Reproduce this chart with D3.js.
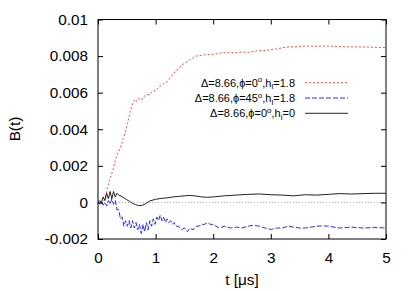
<!DOCTYPE html>
<html><head><meta charset="utf-8">
<script src="https://cdn.jsdelivr.net/npm/d3@7"></script>
<style>body{margin:0;background:#fff}svg{display:block}text{font-family:"Liberation Sans",Arial,sans-serif;fill:#000}</style>
</head><body>
<script>
// ---- data ----
const xTicks = [0, 1, 2, 3, 4, 5];
const yTicks = [-0.002, 0, 0.002, 0.004, 0.006, 0.008, 0.01];
const yTickLabels = ["-0.002", "0", "0.002", "0.004", "0.006", "0.008", "0.01"];
const seriesNames = ["phi0_h18", "phi45_h18", "phi0_h0"];

const redSeries = [
[0,0],[0.05,-0.0001],[0.1,0.0001],[0.12,0.0002],[0.15,0.0006],[0.18,0.001],[0.21,0.0013],[0.24,0.0016],[0.27,0.0019],[0.3,0.0023],
[0.33,0.0026],[0.36,0.0028],[0.39,0.003],[0.42,0.0033],[0.45,0.0036],[0.48,0.0039],[0.51,0.0043],[0.54,0.0047],[0.57,0.0051],[0.6,0.0054],
[0.63,0.0056],[0.66,0.0055],[0.7,0.0057],[0.75,0.0056],[0.8,0.0058],[0.85,0.0059],[0.9,0.0059],[0.95,0.0061],[1.0,0.0061],[1.05,0.0063],
[1.1,0.0064],[1.15,0.0065],[1.2,0.0066],[1.25,0.0068],[1.3,0.007],[1.35,0.0072],[1.4,0.0073],[1.45,0.0075],[1.5,0.0076],[1.55,0.0077],
[1.6,0.0078],[1.65,0.0079],[1.7,0.008],[1.8,0.00805],[1.9,0.00808],[2.0,0.0081],[2.1,0.00815],[2.2,0.0082],[2.3,0.00818],[2.4,0.0082],
[2.5,0.00822],[2.6,0.0082],[2.7,0.00825],[2.8,0.0083],[2.9,0.0083],[3.0,0.00835],[3.1,0.0084],[3.2,0.00845],[3.3,0.0085],[3.4,0.0085],
[3.5,0.00852],[3.6,0.00855],[3.7,0.00855],[3.8,0.00853],[3.9,0.00855],[4.0,0.00855],[4.2,0.00852],[4.4,0.0085],[4.6,0.0085],[4.8,0.00848],[5.0,0.00846]
];

const blueSeries = [
[0,0],[0.03,-0.0001],[0.06,0.00005],[0.09,-0.00015],[0.12,0],[0.15,-0.0002],[0.18,0.0001],[0.21,-0.0001],[0.24,0.0002],[0.27,-0.0001],
[0.3,0.0001],[0.33,-0.0004],[0.36,-0.0004],[0.39,-0.0009],[0.42,-0.0008],[0.45,-0.0013],[0.48,-0.001],[0.51,-0.0013],[0.54,-0.001],[0.57,-0.0014],
[0.6,-0.001],[0.63,-0.0014],[0.66,-0.0011],[0.69,-0.0015],[0.72,-0.0012],[0.75,-0.0017],[0.78,-0.0012],[0.81,-0.0016],[0.84,-0.0011],[0.87,-0.0015],
[0.9,-0.001],[0.93,-0.0013],[0.96,-0.0009],[0.99,-0.0012],[1.02,-0.0008],[1.05,-0.001],[1.08,-0.0007],[1.11,-0.001],[1.14,-0.0008],[1.17,-0.0011],
[1.2,-0.0009],[1.23,-0.0011],[1.26,-0.001],[1.29,-0.0012],[1.32,-0.0011],[1.35,-0.0013],[1.4,-0.0013],[1.45,-0.0015],[1.5,-0.0014],[1.55,-0.0016],
[1.6,-0.0014],[1.65,-0.0015],[1.7,-0.0013],[1.75,-0.0013],[1.8,-0.0012],[1.85,-0.0012],[1.9,-0.0011],[1.95,-0.0012],[2.0,-0.0012],[2.1,-0.0014],
[2.2,-0.0013],[2.3,-0.0014],[2.4,-0.00135],[2.5,-0.0014],[2.6,-0.0013],[2.7,-0.00125],[2.8,-0.0013],[2.9,-0.0014],[3.0,-0.00148],[3.1,-0.0014],
[3.2,-0.0014],[3.3,-0.0013],[3.4,-0.00135],[3.5,-0.0014],[3.6,-0.0014],[3.7,-0.00135],[3.8,-0.0013],[3.9,-0.00128],[4.0,-0.0013],[4.2,-0.0014],
[4.4,-0.00135],[4.6,-0.0014],[4.8,-0.00137],[5.0,-0.0014]
];

const blackSeries = [
[0,0],[0.03,0.0001],[0.06,0],[0.09,0.0003],[0.12,0.0001],[0.15,0.0005],[0.18,0.0002],[0.21,0.0006],[0.24,0.0002],[0.27,0.0006],
[0.3,0.0003],[0.33,0.0005],[0.36,0.0004],[0.4,0.00035],[0.45,0.00025],[0.5,0.00015],[0.55,0.00005],[0.6,-0.00005],[0.65,-0.00012],[0.7,-0.00017],
[0.75,-0.00017],[0.8,-0.00012],[0.85,-0.00002],[0.9,0.00008],[1.0,0.00017],[1.1,0.00022],[1.2,0.00025],[1.3,0.0003],[1.4,0.00033],[1.5,0.00036],
[1.6,0.00038],[1.7,0.00035],[1.8,0.0003],[1.9,0.00028],[2.0,0.0003],[2.2,0.00036],[2.4,0.0004],[2.6,0.00044],[2.8,0.00046],[3.0,0.00042],
[3.2,0.0004],[3.4,0.00036],[3.6,0.00042],[3.8,0.0004],[4.0,0.00044],[4.2,0.00048],[4.4,0.00046],[4.6,0.00048],[4.8,0.0005],[5.0,0.0005]
];

// ---- drawing ----
const W = 415, H = 291;
const L = 98, R = 386, T = 19.5, B = 239;
const svg = d3.select("body").append("svg").attr("width", W).attr("height", H);
const x = d3.scaleLinear().domain([0, 5]).range([L, R]);
const y = d3.scaleLinear().domain([-0.002, 0.01]).range([B, T]);

// zero line
svg.append("line").attr("x1", L).attr("x2", R).attr("y1", Math.round(y(0)) + 0.5).attr("y2", Math.round(y(0)) + 0.5)
  .attr("stroke", "#999").attr("stroke-width", 0.8).attr("stroke-dasharray", "1,2");

svg.append("clipPath").attr("id", "c").append("rect").attr("x", L).attr("y", T).attr("width", R - L).attr("height", B - T);
const line = d3.line().x(d => x(d[0])).y(d => y(d[1]));
const g = svg.append("g").attr("clip-path", "url(#c)");
const styles = [
  {data: redSeries, color: "#ff4545", dash: "2,2", w: 1},
  {data: blueSeries, color: "#2a2aff", dash: "5,2", w: 1},
  {data: blackSeries, color: "#222", dash: null, w: 1}
];
styles.forEach(s => {
  g.append("path").datum(s.data).attr("d", line).attr("fill", "none")
    .attr("stroke", s.color).attr("stroke-width", s.w).attr("stroke-dasharray", s.dash);
});

// axes with mirrored inward ticks
const axB = svg.append("g").attr("transform", `translate(0,${B})`)
  .call(d3.axisBottom(x).tickValues(xTicks).tickSize(-5).tickPadding(13).tickFormat(d3.format("d")));
const axT = svg.append("g").attr("transform", `translate(0,${T})`)
  .call(d3.axisTop(x).tickValues(xTicks).tickSize(-5).tickFormat(""));
const axL = svg.append("g").attr("transform", `translate(${L},0)`)
  .call(d3.axisLeft(y).tickValues(yTicks).tickSize(-5).tickPadding(10).tickFormat((d, i) => yTickLabels[i]));
const axR = svg.append("g").attr("transform", `translate(${R},0)`)
  .call(d3.axisRight(y).tickValues(yTicks).tickSize(-5).tickFormat(""));
[axB, axT, axL, axR].forEach(a => {
  a.select(".domain").remove();
  a.selectAll("line").attr("stroke", "#000");
  a.selectAll("text").attr("font-size", 15.3).attr("font-family", "Liberation Sans, Arial, sans-serif");
});
svg.append("rect").attr("x", L).attr("y", T).attr("width", R - L).attr("height", B - T)
  .attr("fill", "none").attr("stroke", "#000").attr("stroke-width", 1);

// axis labels
svg.append("text").attr("x", 242).attr("y", 285).attr("text-anchor", "middle").attr("font-size", 15.3).text("t [μs]");
svg.append("text").attr("transform", "translate(19.5,129) rotate(-90)").attr("text-anchor", "middle").attr("font-size", 15.3).text("B(t)");

// legend
const legend = [
  {phi: "0", h: "1.8", s: styles[0]},
  {phi: "45", h: "1.8", s: styles[1]},
  {phi: "0", h: "0", s: styles[2]}
];
legend.forEach((d, i) => {
  const cy = 82.7 + i * 15.3;
  const t = svg.append("text").attr("x", 295).attr("y", cy + 4).attr("text-anchor", "end").attr("font-size", 11);
  t.append("tspan").text("Δ=8.66,ϕ=" + d.phi);
  t.append("tspan").attr("dy", -4.5).attr("font-size", 8).text("o");
  t.append("tspan").attr("dy", 4.5).text(",h");
  t.append("tspan").attr("dy", 2.5).attr("font-size", 8).text("l");
  t.append("tspan").attr("dy", -2.5).text("=" + d.h);
  svg.append("line").attr("x1", 305).attr("x2", 348).attr("y1", cy).attr("y2", cy)
    .attr("stroke", d.s.color).attr("stroke-width", d.s.w).attr("stroke-dasharray", d.s.dash);
});
</script>
</body></html>
